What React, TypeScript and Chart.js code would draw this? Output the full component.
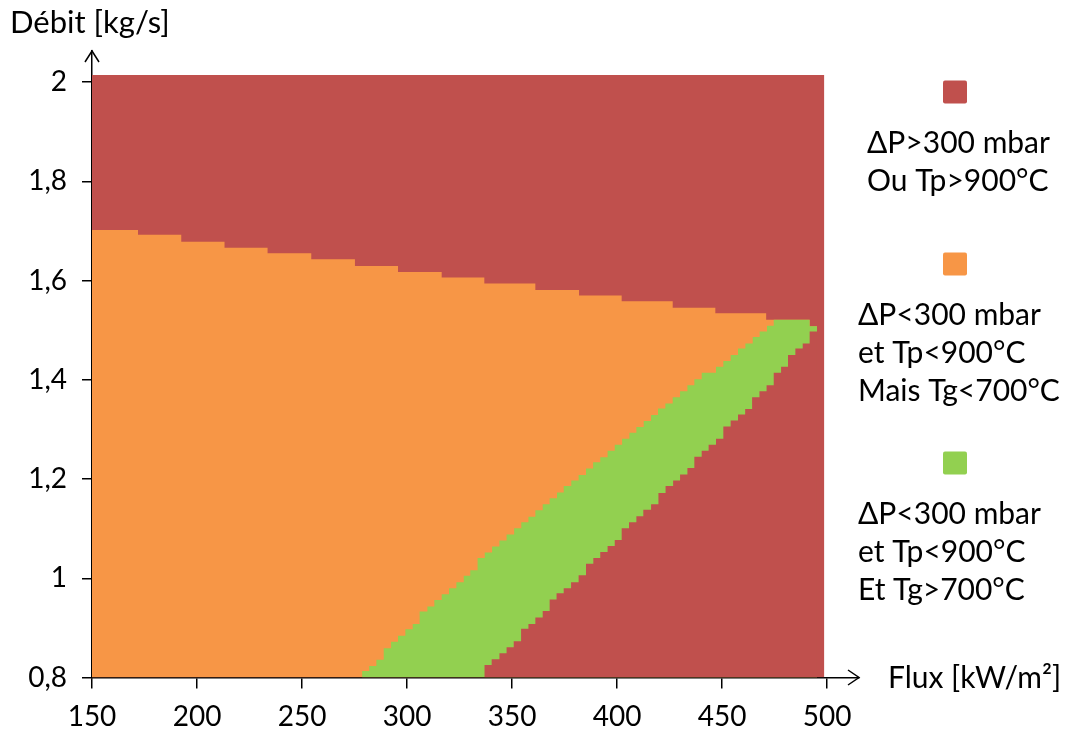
import { useEffect, useRef } from 'react';
import { Chart, registerables } from 'chart.js';

Chart.register(...registerables);

// ---------- axes ----------
const xTicks = [150, 200, 250, 300, 350, 400, 450, 500];
const xTickLabels = ['150', '200', '250', '300', '350', '400', '450', '500'];
const yTicks = [0.8, 1.0, 1.2, 1.4, 1.6, 1.8, 2.0];
const yTickLabels = ['0,8', '1', '1,2', '1,4', '1,6', '1,8', '2'];
const xAxisMin = 150;
const xAxisMax = 515.2; // arrow tip
const yAxisMin = 0.8;
const yAxisMax = 2.0625; // arrow tip

const xTitle = 'Flux [kW/m²]';
const yTitle = 'Débit [kg/s]';

// ---------- extent of the computed map (red background) ----------
const mapX = [150, 498.7];
const mapY = [2.014, 2.014];

// ---------- upper limit of the admissible zone (orange / green below, red above) ----------
const topX = [150, 171.9, 192.5, 213.1, 233.6, 254.4, 275.2, 295.7, 316.5, 336.8, 361.1, 381.9, 402.2, 426.5, 446.8, 471.0, 491.7, 495.2];
const topY = [1.702, 1.692, 1.678, 1.666, 1.655, 1.643, 1.629, 1.617, 1.606, 1.594, 1.581, 1.570, 1.558, 1.545, 1.534, 1.521, 1.508, 0.8];

// ---------- upper limit of the green zone (Tg > 700°C) ----------
const greenTopX = [278.6, 282.0, 285.4, 288.9, 292.4, 295.7, 299.2, 302.7, 306.0, 309.7, 313.0, 316.5, 320.0, 323.5, 327.0, 330.1, 333.6, 337.0, 340.5, 344.0, 347.4, 351.0, 354.4, 357.8, 361.1, 364.6, 367.9, 371.4, 374.6, 378.2, 381.7, 385.2, 388.6, 392.0, 395.5, 398.9, 402.4, 405.9, 409.2, 412.7, 416.2, 419.5, 423.0, 426.5, 430.0, 433.5, 436.8, 440.3, 447.1, 450.6, 454.1, 457.6, 461.1, 464.6, 467.9, 471.4, 474.6, 491.7, 495.2];
const greenTopY = [0.813, 0.823, 0.836, 0.859, 0.872, 0.884, 0.897, 0.908, 0.933, 0.943, 0.956, 0.968, 0.980, 0.992, 1.005, 1.016, 1.041, 1.052, 1.064, 1.076, 1.088, 1.101, 1.113, 1.124, 1.137, 1.149, 1.161, 1.173, 1.186, 1.197, 1.208, 1.221, 1.234, 1.244, 1.257, 1.269, 1.281, 1.293, 1.305, 1.317, 1.329, 1.342, 1.352, 1.365, 1.377, 1.389, 1.401, 1.414, 1.426, 1.438, 1.450, 1.463, 1.473, 1.486, 1.497, 1.509, 1.521, 1.508, 0.8];

// ---------- upper limit of the lower-right red zone (Tp > 900°C) ----------
const redLowX = [336.8, 340.3, 344.0, 347.4, 350.8, 354.3, 357.8, 361.1, 364.6, 367.9, 371.2, 374.6, 378.1, 381.7, 385.2, 388.7, 392.0, 395.5, 398.9, 402.2, 405.7, 409.2, 412.5, 416.2, 419.7, 423.1, 426.7, 430.0, 433.5, 436.8, 440.3, 443.6, 447.1, 450.6, 454.1, 457.6, 461.0, 464.3, 467.8, 471.2, 474.6, 478.1, 481.4, 484.9, 488.4, 491.7, 495.2];
const redLowY = [0.825, 0.837, 0.849, 0.861, 0.873, 0.898, 0.908, 0.921, 0.934, 0.957, 0.970, 0.980, 0.992, 1.006, 1.029, 1.041, 1.053, 1.065, 1.077, 1.101, 1.113, 1.125, 1.138, 1.149, 1.172, 1.186, 1.197, 1.209, 1.222, 1.245, 1.257, 1.269, 1.281, 1.306, 1.318, 1.330, 1.341, 1.365, 1.377, 1.389, 1.414, 1.426, 1.450, 1.463, 1.473, 1.497, 1.497];

// ---------- legend ----------
const legendColors = ['#C0504D', '#F79646', '#92D050'];
const legendLines = [
  ['ΔP>300 mbar', 'Ou Tp>900°C'],
  ['ΔP<300 mbar', 'et Tp<900°C', 'Mais Tg<700°C'],
  ['ΔP<300 mbar', 'et Tp<900°C', 'Et Tg>700°C'],
];

const RED = '#C0504D';
const ORANGE = '#F79646';
const GREEN = '#92D050';
const FONT = 'Lato, "Open Sans", "DejaVu Sans", sans-serif';

const zip = (xs: number[], ys: number[]) => xs.map((x, i) => ({ x, y: ys[i] }));

const area = (label: string, xs: number[], ys: number[], color: string, order: number) => ({
  label,
  data: zip(xs, ys),
  order,
  stepped: true,
  fill: 'start',
  backgroundColor: color,
  borderColor: 'rgba(0,0,0,0)',
  borderWidth: 0,
  pointRadius: 0,
  pointHoverRadius: 0,
  pointHitRadius: 0,
  tension: 0,
});

const overlayPlugin = {
  id: 'overlay',
  afterDraw(chart: any) {
    const { ctx, chartArea: a } = chart;
    ctx.save();
    ctx.strokeStyle = '#000';
    ctx.lineWidth = 1.5;
    ctx.lineJoin = 'miter';
    // arrow heads
    ctx.beginPath();
    ctx.moveTo(a.left - 7, a.top + 11);
    ctx.lineTo(a.left, a.top);
    ctx.lineTo(a.left + 7, a.top + 11);
    ctx.stroke();
    ctx.beginPath();
    ctx.moveTo(a.right - 11, a.bottom - 7.5);
    ctx.lineTo(a.right, a.bottom);
    ctx.lineTo(a.right - 11, a.bottom + 7.5);
    ctx.stroke();

    // axis titles
    ctx.fillStyle = '#000';
    ctx.textAlign = 'left';
    ctx.textBaseline = 'alphabetic';
    ctx.font = `31px ${FONT}`;
    ctx.fillText(yTitle, 10, 33);
    ctx.font = `30px ${FONT}`;
    ctx.fillText(xTitle, 888, 688);

    // legend
    const squareCY = [92, 264, 463];
    const textX = [867, 858, 858];
    legendLines.forEach((lines, i) => {
      const cy = squareCY[i];
      ctx.fillStyle = legendColors[i];
      ctx.beginPath();
      if (ctx.roundRect) ctx.roundRect(943, cy - 11.5, 24, 23, 2);
      else ctx.rect(943, cy - 11.5, 24, 23);
      ctx.fill();
      ctx.fillStyle = '#000';
      ctx.font = `30px ${FONT}`;
      ctx.textBaseline = 'middle';
      ctx.textAlign = 'left';
      lines.forEach((t, j) => {
        ctx.fillText(t, textX[i], cy + 51 + j * 38);
      });
    });
    ctx.restore();
  },
};

export default function App() {
  const ref = useRef<HTMLCanvasElement | null>(null);

  useEffect(() => {
    let chart: any = null;
    let cancelled = false;
    const make = () => {
      if (cancelled || !ref.current) return;
      chart = new Chart(ref.current, {
        type: 'line',
        data: {
          datasets: [
            area('ΔP>300 mbar ou Tp>900°C', mapX, mapY, RED, 4),
            area('ΔP<300 mbar et Tp<900°C mais Tg<700°C', topX, topY, ORANGE, 3),
            area('ΔP<300 mbar et Tp<900°C et Tg>700°C', greenTopX, greenTopY, GREEN, 2),
            area('Tp>900°C', redLowX, redLowY, RED, 1),
          ] as any,
        },
        options: {
          animation: false,
          responsive: false,
          events: [],
          layout: { padding: { left: 0, top: 51, right: 211, bottom: 0 } },
          plugins: { legend: { display: false }, tooltip: { enabled: false } },
          scales: {
            x: {
              type: 'linear',
              min: xAxisMin,
              max: xAxisMax,
              afterBuildTicks: (s: any) => {
                s.ticks = xTicks.map((v) => ({ value: v }));
              },
              afterFit: (s: any) => {
                s.height = 57.5;
              },
              grid: { drawOnChartArea: false, drawTicks: true, tickLength: 11, color: '#000', lineWidth: 1.5 },
              border: { display: true, color: '#000', width: 1.5 },
              ticks: {
                padding: 12,
                color: '#000',
                autoSkip: false,
                maxRotation: 0,
                font: { family: FONT, size: 28 },
                callback: (v: any) => {
                  const i = xTicks.findIndex((t) => Math.abs(t - v) < 1e-6);
                  return i >= 0 ? xTickLabels[i] : '';
                },
              },
            },
            y: {
              type: 'linear',
              min: yAxisMin,
              max: yAxisMax,
              afterBuildTicks: (s: any) => {
                s.ticks = yTicks.map((v) => ({ value: v }));
              },
              afterFit: (s: any) => {
                s.width = 92;
              },
              grid: { drawOnChartArea: false, drawTicks: true, tickLength: 10, color: '#000', lineWidth: 1.5 },
              border: { display: true, color: '#000', width: 1.5 },
              ticks: {
                padding: 15,
                color: '#000',
                autoSkip: false,
                font: { family: FONT, size: 28 },
                callback: (v: any) => {
                  const i = yTicks.findIndex((t) => Math.abs(t - v) < 1e-6);
                  return i >= 0 ? yTickLabels[i] : '';
                },
              },
            },
          },
        } as any,
        plugins: [overlayPlugin],
      });
    };
    const fonts: any = (document as any).fonts;
    if (fonts && fonts.load) {
      Promise.all([fonts.load('28px Lato'), fonts.load('30px Lato')]).then(make, make);
    } else {
      make();
    }
    return () => {
      cancelled = true;
      if (chart) chart.destroy();
    };
  }, []);

  return (
    <div style={{ position: 'fixed', left: 0, top: 0, width: 1070, height: 735, background: '#fff' }}>
      <canvas ref={ref} width={1070} height={735} style={{ display: 'block' }} />
    </div>
  );
}
